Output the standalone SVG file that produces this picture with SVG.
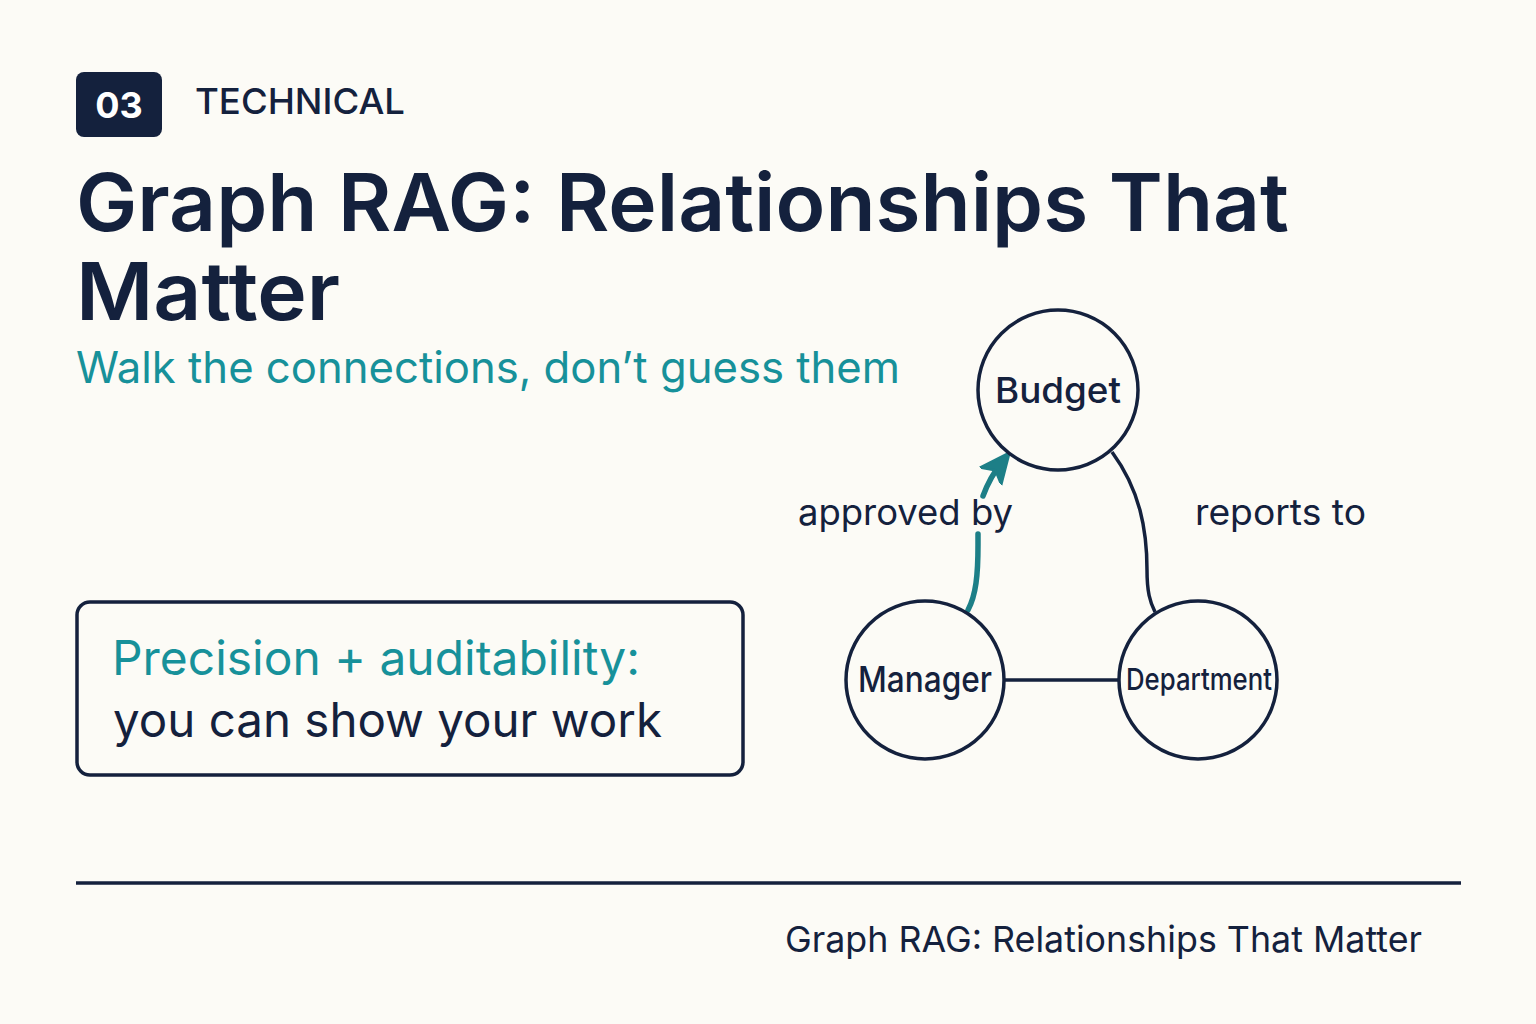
<svg xmlns="http://www.w3.org/2000/svg" width="1536" height="1024" viewBox="0 0 1536 1024">
<style>
.bg{fill:#FCFBF6}
.navy{fill:#14213D}
.teal{fill:#17919A}
text{font-family:Inter,"Noto Sans","Liberation Sans",sans-serif}
.node circle{fill:#FCFBF6;stroke:#14213D;stroke-width:3.5}
.node text{fill:#14213D;font-size:36px;font-weight:500;text-anchor:middle}
.edge{fill:none;stroke:#14213D;stroke-width:3.5}
.tealedge{fill:none;stroke:#1D7F87;stroke-width:5.5;stroke-linecap:round}
.lbl{fill:#14213D;font-size:36px;font-weight:400}
</style>
<defs>
<marker id="arr" viewBox="0 0 10 10" refX="6" refY="5" markerWidth="5.5" markerHeight="5.5" orient="auto" markerUnits="strokeWidth">
<path d="M0,0.5 L10,5 L0,9.5 L2.5,5 Z" fill="#1D7F87" stroke="#1D7F87" stroke-width="0.8" stroke-linejoin="round"/>
</marker>
</defs>
<rect class="bg" x="0" y="0" width="1536" height="1024"/>
<g id="header">
<rect x="76" y="72" width="86" height="65" rx="8" fill="#14213D"/>
<text x="119" y="118" font-size="36" font-weight="700" fill="#FFFFFF" text-anchor="middle">03</text>
<text x="195" y="114" font-size="36" font-weight="500" class="navy" textLength="210" lengthAdjust="spacingAndGlyphs">TECHNICAL</text>
</g>
<g id="title">
<text x="76" y="231" font-size="80" font-weight="600" class="navy" textLength="1213" lengthAdjust="spacingAndGlyphs">Graph RAG: Relationships That</text>
<text x="76" y="320" font-size="80" font-weight="600" class="navy" textLength="264" lengthAdjust="spacingAndGlyphs">Matter</text>
<text x="76" y="383" font-size="44" font-weight="400" class="teal" textLength="824" lengthAdjust="spacingAndGlyphs">Walk the connections, don’t guess them</text>
</g>
<g id="callout">
<rect x="77" y="602" width="666" height="173" rx="13" fill="none" stroke="#14213D" stroke-width="3.5"/>
<text x="112" y="675" font-size="48" font-weight="400" class="teal" textLength="528" lengthAdjust="spacingAndGlyphs">Precision + auditability:</text>
<text x="113" y="737" font-size="48" font-weight="400" class="navy" textLength="549" lengthAdjust="spacingAndGlyphs">you can show your work</text>
</g>
<g id="connectors">
<path class="edge" d="M1005,680 L1119,680"/>
<path class="edge" d="M1112,452 C1140,490 1147,530 1147,570 C1147,592 1150,602 1155,612"/>
<path class="tealedge" d="M968,610 C976,595 978,575 978,545 L978,534"/>
<path class="tealedge" d="M983,496 C987,485 994,472 1002,462" marker-end="url(#arr)"/>
<text class="lbl" x="798" y="525" textLength="215" lengthAdjust="spacingAndGlyphs">approved by</text>
<text class="lbl" x="1195" y="525" textLength="171" lengthAdjust="spacingAndGlyphs">reports to</text>
</g>
<g id="node-budget" class="node">
<circle cx="1058" cy="390" r="80"/>
<text x="1058" y="403" textLength="126" lengthAdjust="spacingAndGlyphs">Budget</text>
</g>
<g id="node-manager" class="node">
<circle cx="925" cy="680" r="79"/>
<text x="925" y="692" font-size="34" textLength="134" lengthAdjust="spacingAndGlyphs">Manager</text>
</g>
<g id="node-department" class="node">
<circle cx="1198" cy="680" r="79"/>
<text x="1199" y="690" style="font-size:30px" textLength="146" lengthAdjust="spacingAndGlyphs">Department</text>
</g>
<g id="footer">
<line x1="76" y1="883" x2="1461" y2="883" stroke="#14213D" stroke-width="3.5"/>
<text x="785" y="952" font-size="36" font-weight="400" class="navy" textLength="637" lengthAdjust="spacingAndGlyphs">Graph RAG: Relationships That Matter</text>
</g>
</svg>
